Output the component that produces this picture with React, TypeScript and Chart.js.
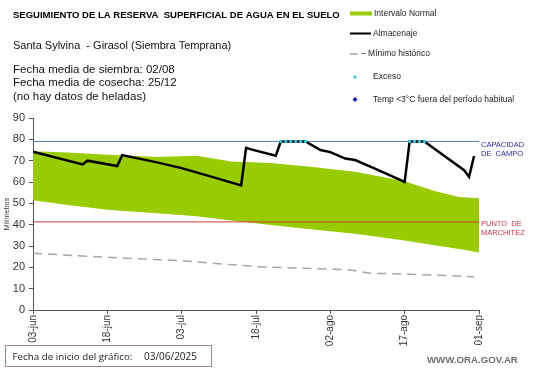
import React, { useEffect, useRef } from 'react';
import { Chart, registerables } from 'chart.js';

Chart.register(...registerables);

const FONT = 'Liberation Sans';

// x axis: days since 03-jun
const xTickLabels = ['03-jun', '18-jun', '03-jul', '18-jul', '02-ago', '17-ago', '01-sep'];
const xTickStep = 15;

// Intervalo normal (band)
const bandDays = [0, 7, 15, 25, 33, 40, 48, 56, 65, 75, 81, 86, 90];
const bandUpper = [74.4, 73.8, 72.8, 71.7, 72.3, 69.6, 68.9, 67.2, 64.8, 60.4, 55.8, 53.0, 52.4];
const bandLower = [51.5, 49.2, 47.0, 45.3, 44.0, 42.0, 39.8, 37.8, 35.8, 32.6, 30.4, 28.6, 27.0];

// Almacenaje
const storageDays = [0, 10, 11, 17, 18, 25, 30, 37, 42, 43, 44, 49, 50, 55, 58, 60, 63, 65, 69, 75, 76, 79, 81, 87, 88, 89];
const storageMm = [74.2, 68.2, 70, 67.5, 72.6, 69.2, 66.5, 61.8, 58.4, 76, 75.3, 72.3, 79, 79, 75, 74, 71, 70.3, 66.3, 60, 79, 79, 75.6, 65.5, 62.4, 72.2];

// Exceso
const excessDays = [50, 51, 52, 53, 54, 55, 76, 77, 78, 79];
const excessMm = [79, 79, 79, 79, 79, 79, 79, 79, 79, 79];

// Mínimo histórico
const minDays = [0, 15, 30, 35, 45, 60, 64, 68, 75, 89];
const minMm = [26.6, 24.7, 23.1, 22.2, 20.3, 19.1, 18.8, 17.2, 16.9, 15.6];

// Reference lines
const refDays = [0, 90];
const capacidadMm = [79, 79];
const marchitezMm = [41.3, 41.3];

const titleText = 'SEGUIMIENTO DE LA RESERVA  SUPERFICIAL DE AGUA EN EL SUELO';
const subtitleText = 'Santa Sylvina  - Girasol (Siembra Temprana)';
const infoLines = ['Fecha media de siembra: 02/08', 'Fecha media de cosecha: 25/12', '(no hay datos de heladas)'];
const legendLabels = ['Intervalo Normal', 'Almacenaje', '\u2013 M\u00ednimo hist\u00f3rico', 'Exceso', 'Temp <3\u00b0C fuera del per\u00edodo habitual'];
const startLabel = 'Fecha de inicio del gr\u00e1fico:';
const startDate = '03/06/2025';
const siteText = 'WWW.ORA.GOV.AR';

const pts = (xs: number[], ys: number[]) => xs.map((x, i) => ({ x, y: ys[i] }));

const textPlugin = {
  id: 'texts',
  afterDraw(chart: any) {
    const ctx: CanvasRenderingContext2D = chart.ctx;
    ctx.save();
    ctx.textBaseline = 'middle';
    ctx.textAlign = 'left';
    const fit = (txt: string, x: number, y: number, w: number, weight: string, color: string, family = FONT) => {
      ctx.font = `${weight} 10px "${family}"`;
      const m = ctx.measureText(txt).width;
      const size = (10 * w) / m;
      ctx.font = `${weight} ${size.toFixed(2)}px "${family}"`;
      ctx.fillStyle = color;
      ctx.fillText(txt, x, y);
    };
    const put = (txt: string, x: number, y: number, size: number, weight: string, color: string, family = FONT) => {
      ctx.font = `${weight} ${size}px "${family}"`;
      ctx.fillStyle = color;
      ctx.fillText(txt, x, y);
    };
    // header
    fit(titleText, 13, 15, 327, 'bold', '#000');
    put(subtitleText, 13, 45.5, 11, 'normal', '#111');
    put(infoLines[0], 13, 69.5, 11.5, 'normal', '#111');
    put(infoLines[1], 13, 83, 11.5, 'normal', '#111');
    put(infoLines[2], 13, 96.5, 11.5, 'normal', '#111');

    // legend
    ctx.fillStyle = '#99cc00';
    ctx.fillRect(350, 11.5, 22, 4);
    ctx.strokeStyle = '#000';
    ctx.lineWidth = 2;
    ctx.beginPath();
    ctx.moveTo(350, 33.5);
    ctx.lineTo(371, 33.5);
    ctx.stroke();
    ctx.strokeStyle = '#a6a6a6';
    ctx.lineWidth = 1.5;
    ctx.beginPath();
    ctx.moveTo(350, 54);
    ctx.lineTo(357.5, 54);
    ctx.stroke();
    ctx.fillStyle = '#33c6dc';
    ctx.beginPath();
    ctx.arc(355, 77, 1.6, 0, Math.PI * 2);
    ctx.fill();
    ctx.fillStyle = '#1a1aa6';
    ctx.beginPath();
    ctx.moveTo(355, 97);
    ctx.lineTo(357.5, 99.5);
    ctx.lineTo(355, 102);
    ctx.lineTo(352.5, 99.5);
    ctx.closePath();
    ctx.fill();
    put(legendLabels[0], 374, 13.5, 8.5, 'normal', '#222');
    put(legendLabels[1], 373, 33.5, 8.5, 'normal', '#222');
    put(legendLabels[2], 361, 54, 8.5, 'normal', '#222');
    put(legendLabels[3], 373, 77, 8.5, 'normal', '#222');
    put(legendLabels[4], 373, 99.5, 8.5, 'normal', '#222');

    // right labels
    put('CAPACIDAD', 481, 145, 7.5, 'normal', '#2b2ba3');
    put('DE  CAMPO', 481, 153.5, 7.5, 'normal', '#2b2ba3');
    put('PUNTO  DE', 481, 224, 7.5, 'normal', '#c8324b');
    put('MARCHITEZ', 481, 232.5, 7.5, 'normal', '#c8324b');

    // bottom box
    ctx.strokeStyle = '#9c8a8a';
    ctx.lineWidth = 1;
    ctx.strokeRect(5.5, 345.5, 206, 21);
    fit(startLabel, 12.5, 357, 120, 'normal', '#222', 'Open Sans');
    fit(startDate, 144, 357, 53, 'normal', '#222', 'Open Sans');

    fit(siteText, 427, 360, 91, 'bold', '#6e6e6e');
    ctx.restore();
  },
};

export default function App() {
  const ref = useRef<HTMLCanvasElement | null>(null);
  useEffect(() => {
    if (!ref.current) return;
    const chart = new Chart(ref.current, {
      type: 'line',
      data: {
        datasets: [
          {
            label: 'Exceso',
            data: pts(excessDays, excessMm),
            showLine: false,
            pointRadius: 1.6,
            pointBorderWidth: 0,
            pointBackgroundColor: '#33c6dc',
            pointBorderColor: '#33c6dc',
          },
          {
            label: 'Almacenaje',
            data: pts(storageDays, storageMm),
            borderColor: '#000',
            borderWidth: 2.5,
            pointRadius: 0,
            tension: 0,
          },
          {
            label: 'Capacidad',
            data: pts(refDays, capacidadMm),
            borderColor: '#5b7fc7',
            borderWidth: 1,
            pointRadius: 0,
          },
          {
            label: 'Marchitez',
            data: pts(refDays, marchitezMm),
            borderColor: '#c0403a',
            borderWidth: 1,
            pointRadius: 0,
          },
          {
            label: 'Mínimo histórico',
            data: pts(minDays, minMm),
            borderColor: '#a6a6a6',
            borderWidth: 1.5,
            borderDash: [9, 6],
            pointRadius: 0,
          },
          {
            label: 'Intervalo Normal',
            data: pts(bandDays, bandUpper),
            borderWidth: 0,
            borderColor: 'rgba(0,0,0,0)',
            backgroundColor: '#99cc00',
            pointRadius: 0,
            fill: '+1',
          },
          {
            label: 'Intervalo Normal (inf)',
            data: pts(bandDays, bandLower),
            borderWidth: 0,
            borderColor: 'rgba(0,0,0,0)',
            pointRadius: 0,
            fill: false,
          },
        ],
      },
      options: {
        animation: false,
        responsive: false,
        maintainAspectRatio: false,
        layout: { padding: { top: 118, right: 62, bottom: 0, left: 0 } },
        plugins: { legend: { display: false }, tooltip: { enabled: false } },
        scales: {
          x: {
            type: 'linear',
            min: 0,
            max: 90,
            afterFit: (s: any) => {
              s.height = 58;
            },
            ticks: {
              stepSize: xTickStep,
              minRotation: 90,
              maxRotation: 90,
              padding: 1,
              color: '#333',
              font: { family: FONT, size: 10 },
              callback: (v: any) => xTickLabels[Math.round(Number(v) / xTickStep)] ?? '',
            },
            grid: { drawOnChartArea: false, drawTicks: true, tickLength: 4, color: '#555' },
            border: { display: true, color: '#555', width: 1 },
          },
          y: {
            min: 0,
            max: 90,
            afterFit: (s: any) => {
              s.width = 33;
            },
            ticks: {
              stepSize: 10,
              padding: 4,
              color: '#333',
              font: { family: FONT, size: 11 },
            },
            title: {
              display: true,
              text: 'Milímetros',
              color: '#333',
              font: { family: FONT, size: 7 },
              padding: { top: 3, bottom: 0 },
            },
            grid: { drawOnChartArea: false, drawTicks: true, tickLength: 4, color: '#555' },
            border: { display: true, color: '#555', width: 1 },
          },
        },
      },
      plugins: [textPlugin],
    });
    return () => chart.destroy();
  }, []);
  return (
    <div style={{ position: 'absolute', left: 0, top: 0, width: 541, height: 368, background: '#fff' }}>
      <canvas ref={ref} width={541} height={368} style={{ display: 'block' }} />
    </div>
  );
}
